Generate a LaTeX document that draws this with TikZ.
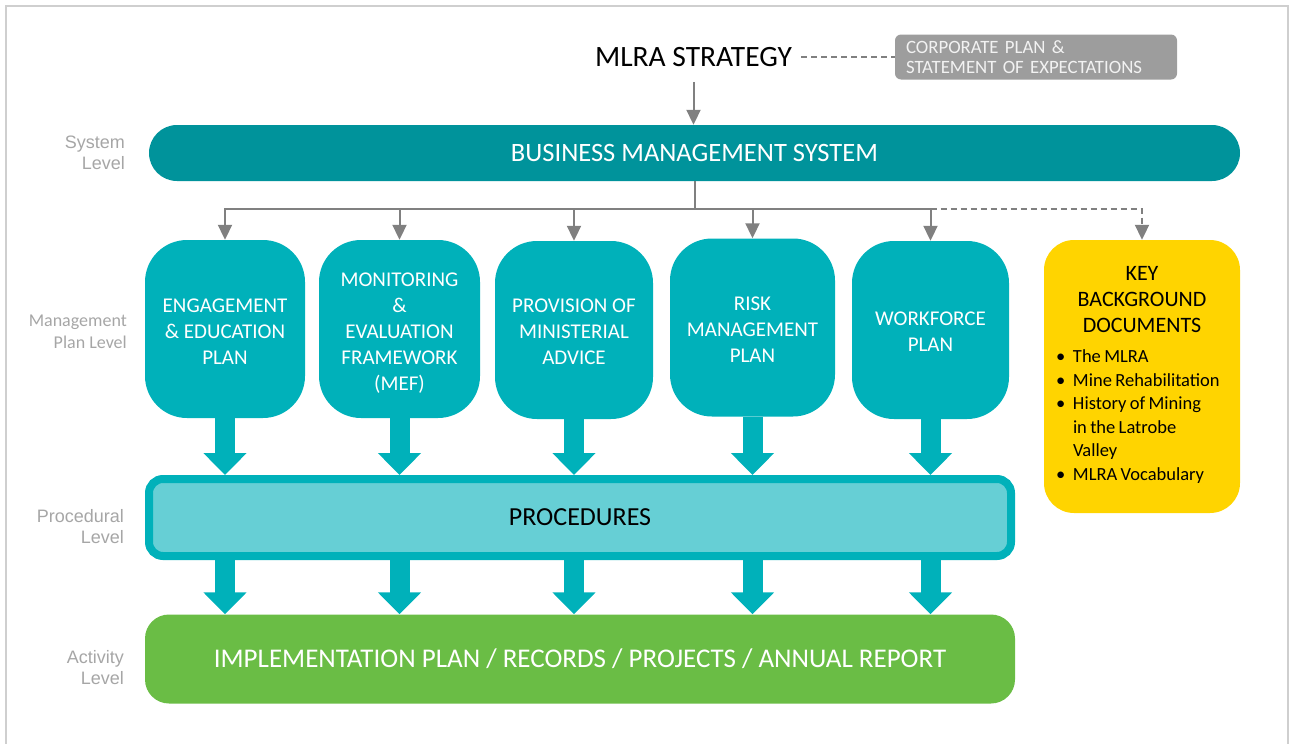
\documentclass[tikz,border=0pt]{standalone}
\usepackage{fontspec}
\setmainfont{Carlito}
\newfontfamily\arialf{Liberation Sans}
\usetikzlibrary{arrows.meta}
\definecolor{bmscol}{HTML}{00939B}
\definecolor{mgmtcol}{HTML}{00B1BA}
\definecolor{proclight}{HTML}{66CFD5}
\definecolor{actcol}{HTML}{6ABD45}
\definecolor{keycol}{HTML}{FFD400}
\definecolor{corpcol}{HTML}{9D9D9D}
\definecolor{conncol}{HTML}{808080}
\definecolor{labelcol}{HTML}{A6A6A6}
\definecolor{framecol}{HTML}{CFCFCF}
\begin{document}
\begin{tikzpicture}[x=1pt,y=-1pt,
  mgmtbox/.style={fill=mgmtcol, rounded corners=42pt, minimum height=178pt, inner sep=0pt},
  mgmttext/.style={text=white, align=center, font=\fontsize{21}{26}\selectfont, inner sep=0pt},
  fatarrow/.style={draw=mgmtcol, line width=20pt, -{Triangle[width=42pt,length=22pt]}},
  thinarrow/.style={draw=conncol, line width=2pt, -{Triangle[width=14pt,length=15pt]}},
  connline/.style={draw=conncol, line width=2pt},
  dashline/.style={draw=conncol, line width=2pt, dash pattern=on 6pt off 4pt},
  levellabel/.style={text=labelcol, align=right, anchor=east, inner sep=0pt, font=\arialf\fontsize{18}{21}\selectfont},
]
\useasboundingbox (0,0) rectangle (1294,744);
% frame
\draw[framecol, line width=1.5pt] (6,744) -- (6,6) -- (1288,6) -- (1288,744);

% top
\node[inner xsep=9pt, inner ysep=15pt, font=\fontsize{29.5}{33}\selectfont] (mlra) at (693.5,57) {MLRA STRATEGY};
\node[fill=corpcol, rounded corners=6pt, minimum width=282pt, minimum height=45pt, text width=260pt, inner xsep=11pt, inner ysep=0pt, align=left, text=white!95!black, font=\fontsize{18.8}{20}\selectfont] (corp) at (1036,57) {CORPORATE PLAN \&\\STATEMENT OF EXPECTATIONS};
\draw[dashline] (mlra.east) -- (mlra.east -| corp.west);

% BMS
\node[fill=bmscol, rounded corners=28pt, minimum width=1091pt, minimum height=56pt, text=white, font=\fontsize{26.5}{30}\selectfont] (bms) at (694.5,153) {BUSINESS MANAGEMENT SYSTEM};
\draw[thinarrow] (mlra.south) -- (mlra.south |- bms.north);

% management plans
\node[mgmtbox, minimum width=160pt] (b1) at (225,329) {};
\node[mgmtbox, minimum width=161pt] (b2) at (399.5,329) {};
\node[mgmtbox, minimum width=158pt] (b3) at (574,330) {};
\node[mgmtbox, minimum width=165pt] (b4) at (752.5,327.5) {};
\node[mgmtbox, minimum width=157pt] (b5) at (930.5,330) {};
\node[mgmttext] (t1) at (225,332) {ENGAGEMENT\\\& EDUCATION\\PLAN};
\node[mgmttext] (t2) at (399.5,333) {MONITORING\\\&\\EVALUATION\\FRAMEWORK\\(MEF)};
\node[mgmttext] (t3) at (574,332) {PROVISION OF\\MINISTERIAL\\ADVICE};
\node[mgmttext] (t4) at (752.5,330) {RISK\\MANAGEMENT\\PLAN};
\node[mgmttext] (t5) at (930.5,332) {WORKFORCE\\PLAN};

% key documents
\node[fill=keycol, rounded corners=30pt, minimum width=196pt, minimum height=273pt, text width=174pt, inner xsep=11pt, inner ysep=0pt] (key) at (1142,376.5) {%
  {\centering\fontsize{22}{26}\selectfont KEY\\BACKGROUND\\DOCUMENTS\par}
  \vspace{7pt}
  {\fontsize{18.5}{23.5}\selectfont\noindent
  \begin{tabular}[t]{@{}p{18pt}@{}l@{}}
  \hspace{1pt}\textbullet & The MLRA\\
  \hspace{1pt}\textbullet & Mine Rehabilitation\\
  \hspace{1pt}\textbullet & History of Mining\\
  & in the Latrobe\\
  & Valley\\
  \hspace{1pt}\textbullet & MLRA Vocabulary
  \end{tabular}\par}};

% connectors from BMS
\path (bms.south) ++(0,28) coordinate (j);
\draw[connline] (bms.south) -- (j);
\draw[thinarrow] (j) -| (b1.north);
\draw[thinarrow] (j) -| (b2.north);
\draw[thinarrow] (j) -| (b3.north);
\draw[thinarrow] (j) -| (b4.north);
\draw[thinarrow] (j) -| (b5.north);
\draw[dashline, -{Triangle[width=14pt,length=15pt]}] (j -| b5.north) -| (key.north);

% procedures
\node[draw=mgmtcol, line width=8pt, fill=proclight, rounded corners=14pt, minimum width=862pt, minimum height=77pt, font=\fontsize{26}{30}\selectfont] (proc) at (580,517.5) {PROCEDURES};

% activity
\node[fill=actcol, rounded corners=24pt, minimum width=870pt, minimum height=89pt, text=white, font=\fontsize{27}{30}\selectfont] (act) at (580,659) {IMPLEMENTATION PLAN / RECORDS / PROJECTS / ANNUAL REPORT};

% fat arrows
\foreach \b in {b1,b2,b3,b4,b5}{
  \draw[fatarrow] (\b.south) -- (\b.south |- proc.north);
  \draw[fatarrow] (\b.south |- proc.south) -- (\b.south |- act.north);
}

% level labels
\node[levellabel] (l1) at (125,152.5) {System\\Level};
\node[levellabel, font=\fontsize{18}{22}\selectfont] (l2) at (127,332) {Management\\Plan Level};
\node[levellabel] (l3) at (124,526.5) {Procedural\\Level};
\node[levellabel] (l4) at (124,668) {Activity\\Level};
\end{tikzpicture}
\end{document}
